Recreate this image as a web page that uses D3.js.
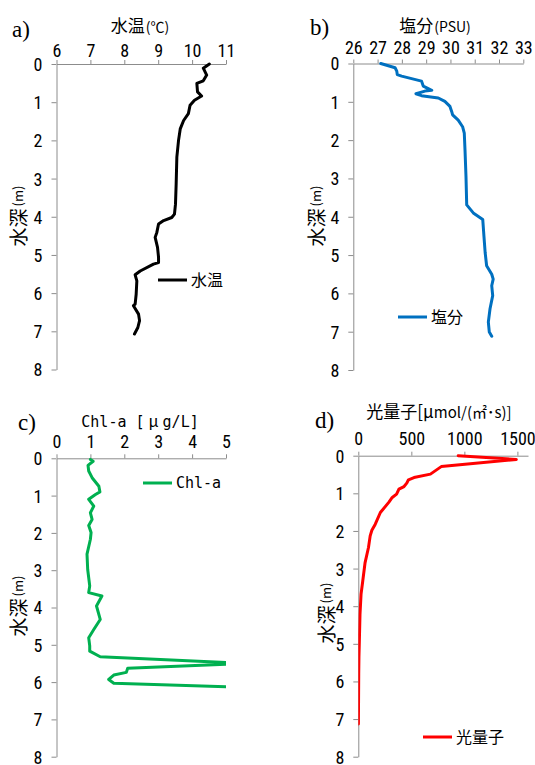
<!DOCTYPE html>
<html><head><meta charset="utf-8">
<script src="https://cdn.jsdelivr.net/npm/d3@7"></script>
<style>body{margin:0;background:#fff}svg{display:block}</style>
</head><body><svg id="c" width="535" height="765"></svg>
<script>
// ---------- data ----------
const depthTicks = [0,1,2,3,4,5,6,7,8];
const tempTicks  = [6,7,8,9,10,11];
const salTicks   = [26,27,28,29,30,31,32,33];
const chlTicks   = [0,1,2,3,4,5];
const lightTicks = [0,500,1000,1500];

const tempDepth = [0,0.11,0.29,0.44,0.51,0.73,0.84,0.95,1.08,1.30,1.48,1.70,2.00,2.44,3.14,3.67,3.93,4.02,4.10,4.19,4.41,4.54,4.80,5.06,5.20,5.24,5.42,5.52,5.68,6.03,6.29,6.33,6.55,6.72,6.90,7.07];
const tempValue = [10.51,10.33,10.43,10.33,10.14,10.16,10.28,10.07,9.94,9.89,9.75,9.65,9.60,9.55,9.53,9.51,9.48,9.40,9.16,9.01,8.96,8.91,8.98,9.01,9.01,8.86,8.47,8.32,8.37,8.35,8.32,8.27,8.42,8.45,8.40,8.30];

const salDepth = [0,0.11,0.20,0.29,0.33,0.46,0.59,0.70,0.72,0.79,0.84,0.90,0.99,1.12,1.25,1.34,1.48,1.65,1.82,2.26,2.95,3.69,3.90,4.07,4.51,4.94,5.28,5.50,5.63,5.80,6.06,6.40,6.75,7.01,7.12];
const salValue = [27.13,27.72,27.79,27.81,27.99,28.81,28.88,29.23,28.95,28.58,28.81,29.50,29.77,29.98,30.05,30.09,30.32,30.50,30.57,30.60,30.64,30.67,30.94,31.33,31.38,31.43,31.49,31.70,31.76,31.70,31.74,31.63,31.56,31.60,31.70];

const chlDepth = [0.03,0.08,0.19,0.34,0.52,0.75,0.90,0.97,1.10,1.28,1.46,1.64,1.80,1.99,2.17,2.57,2.98,3.42,3.60,3.69,3.96,4.32,4.59,4.81,5.03,5.17,5.32,5.50,5.63,5.74,5.81,5.93,6.03,6.13];
const chlValue = [1.00,1.08,0.93,0.95,1.05,1.25,1.28,1.15,0.95,1.10,1.00,1.05,0.95,1.02,1.00,0.90,0.92,0.98,0.95,1.34,1.18,1.29,1.10,0.95,0.98,0.98,1.29,5.6,2.10,2.06,1.69,1.54,1.69,5.3];

const lightDepth = [0,0.10,0.29,0.49,0.58,0.64,0.73,0.82,0.89,1.02,1.11,1.24,1.51,1.82,1.98,2.13,2.44,2.84,3.33,3.68,4.21,4.92,5.36,5.80,7.13];
const lightValue = [942,1490,782,680,525,473,457,431,383,361,320,287,208,160,128,112,96,64,42,26,16,10,6,4,1];

// ---------- layout ----------
const panels = [
  {id:"a", letter:"a)", lx:12, ly:37, x0:56.5, x1:226, y0:64, y1:369.5, dom:[6,11], ticks:tempTicks,
   tickBase:57, title:[["水温",17,"jp",0],["(℃)",14,"jp",1]], tx:140, ty:32, ytx:17, yty:216,
   depth:tempDepth, val:tempValue, color:"#000000", leg:{x:158, y:280, name:"水温", font:"jp"}},
  {id:"b", letter:"b)", lx:310, ly:35, x0:353.3, x1:523.3, y0:63.5, y1:370, dom:[26,33], ticks:salTicks,
   tickBase:54, title:[["塩分",17,"jp",0],["(PSU)",14,"jp",1]], tx:435, ty:32, ytx:315, yty:216,
   depth:salDepth, val:salValue, color:"#0070C0", leg:{x:398, y:317, name:"塩分", font:"jp"}},
  {id:"c", letter:"c)", lx:18, ly:430, x0:56.5, x1:226, y0:458.3, y1:756.7, dom:[0,5], ticks:chlTicks,
   tickBase:448, title:[["Chl-a [",15,"mono",0],["μ",16,"jp",4],["g/L]",15,"mono",4]], tx:140, ty:427, ytx:17, yty:606,
   depth:chlDepth, val:chlValue, color:"#00B050", leg:{x:143, y:483, name:"Chl-a", font:"mono"}},
  {id:"d", letter:"d)", lx:315, ly:428, x0:358.3, x1:528, dom:[0,1600], y0:455.7, y1:756.7, ticks:lightTicks,
   tickBase:445, title:[["光量子[",17,"jp",0],["μ",17,"jp",0],["mol/(㎡･s)]",15,"jp",0]], tx:439, ty:418, ytx:325, yty:613,
   depth:lightDepth, val:lightValue, color:"#FF0000", leg:{x:423, y:737, name:"光量子", font:"jp"}}
];

const fonts = {
  jp: "'Noto Sans CJK JP', 'Noto Sans', sans-serif",
  mono: "'DejaVu Sans Mono', 'Liberation Mono', monospace",
  num: "'Liberation Sans Narrow', 'Roboto Condensed', 'Liberation Sans', sans-serif",
  serif: "'Liberation Serif', 'DejaVu Serif', serif"
};

const svg = d3.select("#c");
const axisColor = "#8c8c8c";

panels.forEach(p => {
  const g = svg.append("g");
  const x = d3.scaleLinear().domain(p.dom).range([p.x0, p.x1]);
  const y = d3.scaleLinear().domain([0, 8]).range([p.y0, p.y1]);

  g.append("clipPath").attr("id", "clip-" + p.id)
    .append("rect").attr("x", p.x0).attr("y", p.y0 - 10)
    .attr("width", p.x1 - p.x0).attr("height", p.y1 - p.y0 + 10);

  const xa = g.append("g").attr("transform", `translate(0,${p.y0})`)
    .call(d3.axisTop(x).tickValues(p.ticks).tickSize(4).tickSizeOuter(0).tickFormat(d3.format("d")));
  xa.select(".domain").attr("stroke", axisColor);
  xa.selectAll(".tick line").attr("stroke", axisColor);
  xa.selectAll(".tick text").attr("y", p.tickBase - p.y0).attr("dy", 0)
    .attr("font-family", fonts.num).attr("font-size", 18).attr("fill", "#000");

  const ya = g.append("g").attr("transform", `translate(${p.x0},0)`)
    .call(d3.axisLeft(y).tickValues(depthTicks).tickSize(5).tickSizeOuter(0).tickFormat(d3.format("d")));
  ya.select(".domain").attr("stroke", axisColor);
  ya.selectAll(".tick line").attr("stroke", axisColor);
  ya.selectAll(".tick text").attr("x", -14).attr("dy", "0.36em")
    .attr("font-family", fonts.num).attr("font-size", 18).attr("fill", "#000");

  const pts = p.depth.map((d, i) => [p.val[i], d]);
  g.append("path").datum(pts)
    .attr("clip-path", `url(#clip-${p.id})`)
    .attr("fill", "none").attr("stroke", p.color).attr("stroke-width", 3)
    .attr("stroke-linejoin", "round").attr("stroke-linecap", "round")
    .attr("d", d3.line().x(d => x(d[0])).y(d => y(d[1])));

  g.append("text").attr("x", p.lx).attr("y", p.ly).text(p.letter)
    .attr("font-family", fonts.serif).attr("font-size", 23).attr("fill", "#000");

  const t = g.append("text").attr("x", p.tx).attr("y", p.ty).attr("text-anchor", "middle").attr("fill", "#000");
  p.title.forEach(([s, fs, f, dx]) => t.append("tspan").text(s).attr("dx", dx)
    .attr("font-size", fs).attr("font-family", fonts[f]));

  const yt = g.append("text").attr("transform", `translate(${p.ytx},${p.yty}) rotate(-90)`)
    .attr("text-anchor", "middle").attr("dominant-baseline", "central").attr("fill", "#000")
    .attr("font-family", fonts.jp);
  yt.append("tspan").text("水深").attr("font-size", 19);
  yt.append("tspan").text("(m)").attr("font-size", 13).attr("dx", 2);

  g.append("line").attr("x1", p.leg.x).attr("x2", p.leg.x + 29)
    .attr("y1", p.leg.y).attr("y2", p.leg.y).attr("stroke", p.color).attr("stroke-width", 3);
  g.append("text").attr("x", p.leg.x + 33).attr("y", p.leg.y).attr("dy", "0.36em")
    .text(p.leg.name).attr("font-family", fonts[p.leg.font])
    .attr("font-size", p.leg.font === "mono" ? 15 : 16).attr("fill", "#000");
});
</script>
</body></html>
